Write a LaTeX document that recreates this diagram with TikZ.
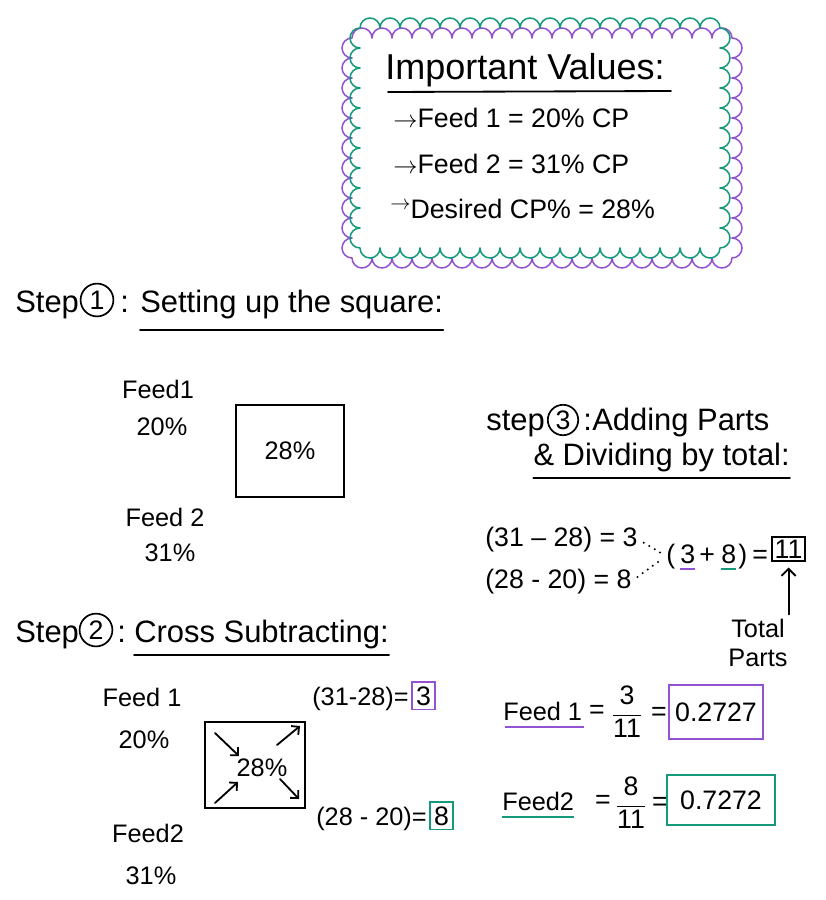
\documentclass[tikz,border=0pt]{standalone}
\usepackage{fontspec}
\setmainfont{Liberation Sans}
\usetikzlibrary{positioning,calc,arrows.meta}
\definecolor{markpurple}{HTML}{9252D2}
\definecolor{markgreen}{HTML}{14997A}
\newcommand{\sidearrow}{$\rightarrow$}
\tikzset{
  hand/.style={inner sep=0pt, font=\fontsize{18}{21}\selectfont},
  handtitle/.style={inner sep=0pt, font=\fontsize{25.6}{30}\selectfont},
  handhead/.style={inner sep=0pt, font=\fontsize{22}{26}\selectfont},
  handbody/.style={inner sep=0pt, font=\fontsize{19}{23}\selectfont},
  stepnum/.style={draw, circle, line width=1.2pt, inner sep=0pt, minimum size=0.82cm, font=\fontsize{19}{23}\selectfont},
  ink/.style={line width=1.3pt, line cap=round},
  valbox/.style={draw, line width=1.3pt, inner sep=3pt},
  scallop/.style={line width=1.1pt, line join=round},
}
\begin{document}
\begin{tikzpicture}[x=0.025cm, y=-0.025cm]
  \useasboundingbox (0,0) rectangle (826,900);

  % important values
  \draw[markpurple, scallop] (352,38)
    \foreach \i in {1,...,19} {arc (180:360:10)}
    \foreach \i in {1,...,11} {arc (-90:90:10)}
    \foreach \i in {1,...,19} {arc (0:180:10)}
    \foreach \i in {1,...,11} {arc (90:270:10)} -- cycle;
  \draw[markgreen, scallop] (360,28)
    \foreach \i in {1,...,18} {arc (180:360:10)}
    \foreach \i in {1,...,11} {arc (-90:90:10)}
    \foreach \i in {1,...,18} {arc (0:180:10)}
    \foreach \i in {1,...,11} {arc (90:270:10)} -- cycle;
  \node[handtitle, anchor=base west] (ivTitle) at (385,80) {Important Values:};
  \draw[ink] ($(ivTitle.base west)+(3,12)$) -- ($(ivTitle.base east)+(6,11)$);
  \node[handbody, anchor=base west] (ivFeedA) at (393,128) {\sidearrow Feed 1 = 20\% CP};
  \node[handbody, anchor=base west] (ivFeedB) at (393,173) {\sidearrow Feed 2 = 31\% CP};
  \node[handbody, anchor=base west] (ivTarget) at (390,218) {\raisebox{0.3em}{\fontsize{14}{16}\selectfont\sidearrow}Desired CP\% = 28\%};

  % step 1
  \node[handhead, anchor=base west] (stepA) at (15,312) {Step};
  \node[stepnum] (stepAnum) at (97,300) {1};
  \node[handhead, anchor=base west] (stepAcolon) at (120,312) {:};
  \node[handhead, anchor=base west] (stepAtitle) at (140,312) {Setting up the square:};
  \draw[ink] ($(stepAtitle.base west)+(0,18)$) -- ($(stepAtitle.base east)+(0,18)$);

  \node[hand, anchor=base] (sqAfeedA) at (158,398) {Feed1};
  \node[hand, anchor=base] (sqApctA) at (162,435) {20\%};
  \node[draw, ink, minimum width=2.68cm, minimum height=2.28cm, hand] (sqA) at (290,451) {28\%};
  \node[hand, anchor=base] (sqAfeedB) at (165,526) {Feed 2};
  \node[hand, anchor=base] (sqApctB) at (170,561) {31\%};

  % step 3
  \node[handhead, anchor=base west] (stepC) at (486,430) {step};
  \node[stepnum, minimum size=0.76cm] (stepCnum) at (563,420) {3};
  \node[handhead, anchor=base west] (stepCcolon) at (583,430) {:};
  \node[handhead, anchor=base west] (stepCtitle) at (592,430) {Adding Parts};
  \node[handhead, anchor=base east] (stepCsub) at (790,465) {\& Dividing by total:};
  \draw[ink] ($(stepCsub.base west)+(0,13)$) -- ($(stepCsub.base east)+(0,13)$);

  \node[handbody, anchor=base west] (diffA) at (485,546) {(31 – 28) = 3};
  \node[handbody, anchor=base west] (diffB) at (485,588) {(28 - 20) = 8};
  \node[handbody, anchor=base west] (sumOpen) at (666,563) {(};
  \node[handbody, anchor=base west] (sumA) at (680,563) {3};
  \node[handbody, anchor=base west] (sumPlus) at (699,563) {+};
  \node[handbody, anchor=base west] (sumB) at (721,563) {8};
  \node[handbody, anchor=base west] (sumClose) at (738,563) {)};
  \node[handbody, anchor=base west] (sumEq) at (752,563) {=};
  \node[handbody, valbox, inner sep=2pt, anchor=west] (total) at (771,549) {11};
  \draw[markpurple, line width=1.8pt] ($(sumA.base west)+(0,6)$) -- ($(sumA.base east)+(0,6)$);
  \draw[markgreen, line width=1.8pt] ($(sumB.base west)+(0,6)$) -- ($(sumB.base east)+(0,6)$);
  \draw[line width=1.6pt, line cap=round, dash pattern=on 0pt off 4.5pt, shorten <=5pt, shorten >=3pt] (diffA.east) -- (sumOpen.west);
  \draw[line width=1.6pt, line cap=round, dash pattern=on 0pt off 4.5pt, shorten <=5pt, shorten >=3pt] (diffB.east) -- (sumOpen.west);
  \node[hand, align=center] (totLbl) at (758,643) {Total\\Parts};
  \draw[ink, -{Straight Barb[length=5pt]}, shorten <=3pt, shorten >=4pt] (totLbl.north -| total.south) -- (total.south);

  % step 2
  \node[handhead, anchor=base west] (stepB) at (15,642) {Step};
  \node[stepnum] (stepBnum) at (96,630) {2};
  \node[handhead, anchor=base west] (stepBcolon) at (117,642) {:};
  \node[handhead, anchor=base west] (stepBtitle) at (134,642) {Cross Subtracting:};
  \draw[ink] ($(stepBtitle.base west)+(0,13)$) -- ($(stepBtitle.base east)+(0,13)$);

  \node[hand, anchor=base] (sqBfeedA) at (142,706) {Feed 1};
  \node[hand, anchor=base] (sqBpctA) at (144,748) {20\%};
  \node[draw, ink, minimum width=2.5cm, minimum height=2.15cm] (sqB) at (255,765) {};
  \node[hand] (sqBval) at (262,768) {28\%};
  \draw[ink, -{Straight Barb[length=4pt]}] ($(sqB.center)+(-40,-32)$) -- ($(sqB.center)+(-16,-9)$);
  \draw[ink, -{Straight Barb[length=4pt]}] ($(sqB.center)+(-40,38)$) -- ($(sqB.center)+(-17,17)$);
  \draw[ink, -{Straight Barb[length=4pt]}] ($(sqB.center)+(22,-20)$) -- ($(sqB.center)+(45,-39)$);
  \draw[ink, -{Straight Barb[length=4pt]}] ($(sqB.center)+(25,14)$) -- ($(sqB.center)+(44,34)$);
  \node[hand, anchor=base] (sqBfeedB) at (148,842) {Feed2};
  \node[hand, anchor=base] (sqBpctB) at (151,884) {31\%};

  \node[hand, anchor=base west] (crossA) at (312,705) {(31-28)=};
  \node[handbody, valbox, draw=markpurple, anchor=base west] (crossAval) at ($(crossA.base east)+(2,0)$) {3};
  \node[hand, anchor=base west] (crossB) at (316,825) {(28 - 20)=};
  \node[handbody, valbox, draw=markgreen, anchor=base west] (crossBval) at ($(crossB.base east)+(2,0)$) {8};

  % results
  \node[hand, anchor=base west] (ratioA) at (503,720) {Feed 1};
  \draw[markpurple, line width=1.8pt] ($(ratioA.base west)+(2,7)$) -- ($(ratioA.base east)+(2,7)$);
  \node[handbody] (ratioAeq) at (597,712) {=};
  \node[handbody] (ratioAfrac) at (627,712) {$\displaystyle\frac{\mbox{3}}{\mbox{11}}$};
  \node[handbody] (ratioAeqB) at (659,714) {=};
  \node[handbody, valbox, draw=markpurple, minimum width=2.35cm, minimum height=1.35cm] (ratioAval) at (716,712) {0.2727};

  \node[hand, anchor=base west] (ratioB) at (502,810) {Feed2};
  \draw[markgreen, line width=1.8pt] ($(ratioB.base west)+(0,7)$) -- ($(ratioB.base east)+(0,7)$);
  \node[handbody] (ratioBeq) at (603,802) {=};
  \node[handbody] (ratioBfrac) at (631,803) {$\displaystyle\frac{\mbox{8}}{\mbox{11}}$};
  \node[handbody] (ratioBeqB) at (660,804) {=};
  \node[handbody, valbox, draw=markgreen, minimum width=2.68cm, minimum height=1.25cm] (ratioBval) at (721,800) {0.7272};
\end{tikzpicture}
\end{document}
